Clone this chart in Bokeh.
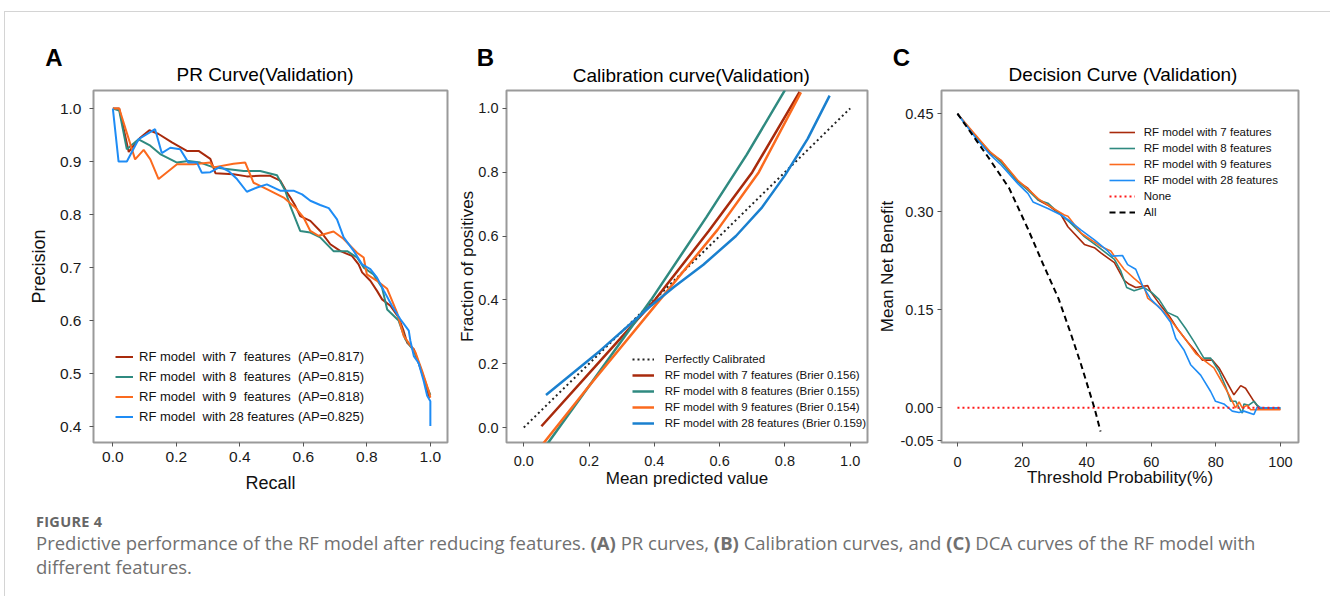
from bokeh.plotting import figure
from bokeh.models import Legend, LegendItem, Label, Div, FixedTicker, PrintfTickFormatter, Range1d
from bokeh.layouts import row, column
from bokeh.embed import file_html
from bokeh.resources import INLINE

FONT = "Liberation Sans"

# ---------------- Panel A : PR curves ----------------
pr_names = ["RF model  with 7  features  (AP=0.817)",
            "RF model  with 8  features  (AP=0.815)",
            "RF model  with 9  features  (AP=0.818)",
            "RF model  with 28 features (AP=0.825)"]
rec7 = [0.0, 0.02, 0.05, 0.086, 0.115, 0.144, 0.186, 0.233, 0.27, 0.307, 0.323, 0.38, 0.422, 0.464, 0.496,
        0.527, 0.548, 0.559, 0.575, 0.59, 0.622, 0.653, 0.685, 0.717, 0.753, 0.774, 0.785, 0.811, 0.832,
        0.848, 0.874, 0.9, 0.916, 0.927, 0.948, 0.963, 0.979, 0.995, 1.0]
prec7 = [1.0, 1.0, 0.918, 0.945, 0.959, 0.952, 0.936, 0.92, 0.92, 0.905, 0.878, 0.876, 0.872, 0.873, 0.873,
         0.864, 0.842, 0.832, 0.816, 0.797, 0.788, 0.769, 0.744, 0.731, 0.722, 0.706, 0.691, 0.675, 0.656,
         0.64, 0.628, 0.606, 0.58, 0.558, 0.546, 0.52, 0.492, 0.458, 0.455]
rec8 = [0.0, 0.02, 0.044, 0.081, 0.118, 0.149, 0.202, 0.238, 0.275, 0.317, 0.359, 0.412, 0.464, 0.517, 0.543,
        0.559, 0.59, 0.622, 0.653, 0.695, 0.738, 0.769, 0.79, 0.821, 0.848, 0.864, 0.9, 0.921, 0.948, 0.969,
        0.99, 1.0]
prec8 = [1.0, 0.996, 0.923, 0.942, 0.93, 0.914, 0.898, 0.901, 0.898, 0.889, 0.886, 0.882, 0.882, 0.874, 0.845,
         0.816, 0.769, 0.766, 0.757, 0.731, 0.731, 0.719, 0.7, 0.687, 0.662, 0.621, 0.6, 0.565, 0.543, 0.511,
         0.474, 0.46]
rec9 = [0.0, 0.02, 0.07, 0.097, 0.118, 0.144, 0.202, 0.254, 0.307, 0.317, 0.38, 0.417, 0.443, 0.485, 0.538,
        0.575, 0.601, 0.622, 0.648, 0.695, 0.727, 0.769, 0.79, 0.8, 0.832, 0.864, 0.895, 0.916, 0.953, 0.974,
        0.995, 1.0]
prec9 = [1.0, 1.0, 0.904, 0.922, 0.904, 0.867, 0.895, 0.895, 0.898, 0.889, 0.896, 0.898, 0.86, 0.848, 0.832,
         0.813, 0.794, 0.769, 0.76, 0.768, 0.754, 0.728, 0.719, 0.687, 0.675, 0.66, 0.615, 0.571, 0.54, 0.505,
         0.467, 0.455]
rec28 = [0.0, 0.018, 0.044, 0.081, 0.133, 0.154, 0.181, 0.212, 0.238, 0.265, 0.28, 0.307, 0.338, 0.364, 0.391,
         0.422, 0.454, 0.485, 0.527, 0.569, 0.596, 0.622, 0.653, 0.68, 0.706, 0.727, 0.759, 0.785, 0.811, 0.832,
         0.853, 0.879, 0.905, 0.932, 0.937, 0.948, 0.963, 0.979, 0.99, 1.0, 1.0]
prec28 = [1.0, 0.9, 0.9, 0.942, 0.961, 0.916, 0.926, 0.923, 0.898, 0.898, 0.879, 0.88, 0.89, 0.882, 0.867,
          0.843, 0.851, 0.857, 0.845, 0.845, 0.838, 0.826, 0.818, 0.812, 0.791, 0.757, 0.731, 0.706, 0.697, 0.681,
          0.657, 0.628, 0.603, 0.581, 0.562, 0.533, 0.52, 0.486, 0.458, 0.448, 0.401]
pr_x_ticks = [0.0, 0.2, 0.4, 0.6, 0.8, 1.0]
pr_y_ticks = [0.4, 0.5, 0.6, 0.7, 0.8, 0.9, 1.0]

# ---------------- Panel B : calibration ----------------
cal_names = ["Perfectly Calibrated",
             "RF model with 7 features (Brier 0.156)",
             "RF model with 8 features (Brier 0.155)",
             "RF model with 9 features (Brier 0.154)",
             "RF model with 28 features (Brier 0.159)"]
perf_x = [0.0, 1.0]
perf_y = [0.0, 1.0]
cal_v7 = [0.054, 0.217, 0.402, 0.566, 0.70, 0.845]
cal_f7 = [0.004, 0.189, 0.40, 0.615, 0.80, 1.052]
cal_v8 = [0.066, 0.2, 0.39, 0.56, 0.683, 0.8]
cal_f8 = [-0.06, 0.13, 0.40, 0.66, 0.855, 1.057]
cal_v9 = [0.052, 0.2, 0.417, 0.594, 0.72, 0.849]
cal_f9 = [-0.06, 0.13, 0.40, 0.62, 0.80, 1.05]
cal_v28 = [0.068, 0.233, 0.387, 0.46, 0.55, 0.65, 0.73, 0.8, 0.87, 0.937]
cal_f28 = [0.102, 0.24, 0.379, 0.44, 0.51, 0.60, 0.69, 0.79, 0.905, 1.04]
cal_x_ticks = [0.0, 0.2, 0.4, 0.6, 0.8, 1.0]
cal_y_ticks = [0.0, 0.2, 0.4, 0.6, 0.8, 1.0]

# ---------------- Panel C : decision curves ----------------
dca_names = ["RF model with 7 features", "RF model with 8 features", "RF model with 9 features",
             "RF model with 28 features", "None", "All"]
t7 = [0, 5.5, 10, 13.6, 18.7, 21.8, 25, 28, 32.1, 34.2, 39.3, 42.4, 44.4, 48.6, 51.6, 53.2, 55.2, 58.9, 59.9,
      63, 65.5, 68.1, 71.2, 73.8, 75.8, 78.9, 81, 83, 85.6, 87.7, 89.2, 91.8, 93.3, 95, 100]
nb7 = [0.45, 0.416, 0.39, 0.378, 0.346, 0.336, 0.318, 0.31, 0.295, 0.277, 0.25, 0.245, 0.237, 0.222, 0.195,
       0.189, 0.184, 0.187, 0.177, 0.156, 0.141, 0.121, 0.101, 0.086, 0.073, 0.073, 0.061, 0.043, 0.02, 0.034,
       0.03, 0.01, 0.0, -0.002, -0.002]
t8 = [0, 5.5, 10, 13.6, 18.7, 21.8, 25, 28, 32.1, 35, 39.3, 43.4, 48.6, 50.6, 52.4, 54.7, 57.8, 60, 62.4, 65,
      68.1, 70.7, 73.3, 76.3, 78.4, 81, 83, 84.6, 86.2, 87.2, 88.2, 88.7, 90.2, 91.8, 92.8, 93.8, 100]
nb8 = [0.45, 0.416, 0.392, 0.375, 0.346, 0.333, 0.318, 0.313, 0.295, 0.283, 0.262, 0.247, 0.227, 0.209, 0.184,
       0.179, 0.184, 0.177, 0.166, 0.146, 0.139, 0.121, 0.101, 0.076, 0.076, 0.056, 0.033, 0.01, 0.01, 0.0,
       -0.008, 0.006, 0.004, 0.01, 0.004, 0.0, 0.0]
t9 = [0, 5.5, 10, 13.6, 18.7, 21.8, 25, 28, 33.1, 34.2, 38.3, 44.4, 47.5, 48.6, 51.6, 54.7, 57.8, 58.9, 62, 65,
      68.1, 71.2, 73.8, 76.3, 79.4, 81.5, 84.1, 86.1, 87.2, 88.2, 89.7, 90.8, 100]
nb9 = [0.45, 0.418, 0.392, 0.378, 0.348, 0.335, 0.32, 0.31, 0.295, 0.293, 0.267, 0.247, 0.24, 0.232, 0.212,
       0.198, 0.185, 0.168, 0.156, 0.141, 0.121, 0.101, 0.083, 0.073, 0.061, 0.043, 0.02, 0.0, 0.009, 0.0,
       0.004, -0.003, -0.003]
t28 = [0, 5.5, 10, 13.6, 18.7, 21.8, 23.4, 28, 32.1, 35, 38.3, 42.4, 46.5, 48, 51.1, 52.7, 55.2, 57.3, 59.9,
       63, 66, 67.6, 70.2, 72.2, 75.3, 78.4, 79.9, 82.5, 85.1, 87.2, 88.7, 91.8, 92.8, 94.8, 100]
nb28 = [0.45, 0.414, 0.388, 0.371, 0.343, 0.328, 0.315, 0.305, 0.295, 0.285, 0.272, 0.257, 0.24, 0.232, 0.233,
        0.219, 0.212, 0.187, 0.166, 0.151, 0.131, 0.106, 0.088, 0.066, 0.05, 0.025, 0.01, 0.006, -0.005,
        -0.007, -0.005, -0.01, 0.001, 0.0, 0.0]
none_t = [0, 100]
none_nb = [0.0, 0.0]
all_t = [0, 5, 10, 16, 21.8, 26.5, 31.3, 35, 38.3, 42.4, 44.3]
all_nb = [0.45, 0.415, 0.38, 0.336, 0.274, 0.22, 0.167, 0.115, 0.066, 0.0, -0.036]
dca_x_ticks = [0, 20, 40, 60, 80, 100]
dca_y_ticks = [-0.05, 0.0, 0.15, 0.30, 0.45]

# ---------------- headings & caption ----------------
panel_letters = ["A", "B", "C"]
panel_titles = ["PR Curve(Validation)", "Calibration curve(Validation)", "Decision Curve (Validation)"]
fig_label = "FIGURE 4"
caption_html = ("Predictive performance of the RF model after reducing features. <b>(A)</b> PR curves, "
                "<b>(B)</b> Calibration curves, and <b>(C)</b> DCA curves of the RF model with<br>"
                "different features.")

C_BROWN = "#a82a0c"
C_TEAL = "#2f8a80"
C_ORANGE = "#fb6a1e"
C_BLUE = "#1e8cf5"
C_BLUE_B = "#1a80cf"

# page offset of the layout content (root at x=4,y=11 plus a 1px border)
OX, OY = 5, 12


def make_fig(width, height, bl, br, bt, bb, xr, yr):
    p = figure(width=width, height=height, x_range=Range1d(*xr), y_range=Range1d(*yr),
               output_backend="svg", toolbar_location=None,
               min_border_left=bl, min_border_right=br, min_border_top=bt, min_border_bottom=bb)
    p.grid.visible = False
    p.outline_line_color = "#9a9a9a"
    p.outline_line_width = 2
    p.background_fill_color = "white"
    p.border_fill_color = "white"
    for ax in (p.xaxis[0], p.yaxis[0]):
        ax.axis_line_color = None
        ax.minor_tick_line_color = None
        ax.major_tick_in = 0
        ax.major_tick_out = 4
        ax.major_tick_line_color = "#555555"
        ax.major_label_text_font = FONT
        ax.axis_label_text_font = FONT
        ax.axis_label_text_font_style = "normal"
        ax.major_label_text_color = "#1a1a1a"
        ax.axis_label_text_color = "#111111"
    return p


def style_legend(lg, size, lh, sp, gw, st):
    lg.label_text_font = FONT
    lg.label_text_font_size = size
    lg.label_text_color = "#111111"
    lg.label_height = lh
    lg.glyph_height = lh
    lg.glyph_width = gw
    lg.label_standoff = st
    lg.spacing = sp
    lg.padding = 0
    lg.margin = 0
    lg.border_line_color = None
    lg.background_fill_alpha = 0


# ---------------- header strip (panel letters + titles) ----------------
HDR_H = 76
hdr = figure(width=1321, height=HDR_H, x_range=Range1d(0, 1321), y_range=Range1d(HDR_H, 0),
             output_backend="svg", toolbar_location=None, min_border=0,
             x_axis_location=None, y_axis_location=None)
hdr.grid.visible = False
hdr.outline_line_color = None
hdr.background_fill_color = "white"
hdr.border_fill_color = "white"
letter_pos = [(53.5, 56.5), (485, 56.5), (900.8, 56.5)]
title_pos = [(264.5, 73.7), (690.8, 75.0), (1122.5, 74.3)]
for txt, (px, py) in zip(panel_letters, letter_pos):
    hdr.add_layout(Label(x=px - OX, y=py - OY, text=txt, text_align="center", text_baseline="middle",
                         text_font=FONT, text_font_size="24px", text_font_style="bold", text_color="black"))
for txt, (px, py) in zip(panel_titles, title_pos):
    hdr.add_layout(Label(x=px - OX, y=py - OY, text=txt, text_align="center", text_baseline="middle",
                         text_font=FONT, text_font_size="19px", text_color="black"))

PH = 488 - HDR_H

# ---------------- Panel A ----------------
pA = make_fig(447, PH, 88, 5, 2, 58, (-0.061, 1.054), (0.37, 1.034))
rA = []
for xs, ys, c in ((rec7, prec7, C_BROWN), (rec8, prec8, C_TEAL), (rec9, prec9, C_ORANGE), (rec28, prec28, C_BLUE)):
    rA.append(pA.line(xs, ys, line_color=c, line_width=2))
pA.xaxis.ticker = FixedTicker(ticks=pr_x_ticks)
pA.yaxis.ticker = FixedTicker(ticks=pr_y_ticks)
pA.xaxis.formatter = PrintfTickFormatter(format="%.1f")
pA.yaxis.formatter = PrintfTickFormatter(format="%.1f")
pA.xaxis.axis_label = "Recall"
pA.yaxis.axis_label = "Precision"
pA.xaxis.major_label_text_font_size = "15.5px"
pA.yaxis.major_label_text_font_size = "15.5px"
pA.xaxis.axis_label_text_font_size = "18px"
pA.yaxis.axis_label_text_font_size = "18px"
pA.xaxis.major_label_standoff = 5
pA.yaxis.major_label_standoff = 8
pA.xaxis.axis_label_standoff = 8
pA.yaxis.axis_label_standoff = 8
lgA = Legend(items=[LegendItem(label=n, renderers=[r]) for n, r in zip(pr_names, rA)], location=(22, 18))
style_legend(lgA, "13px", 15, 5, 18, 6)
pA.add_layout(lgA)

# ---------------- Panel B ----------------
pB = make_fig(423, PH, 54, 8, 2, 52, (-0.053, 1.053), (-0.047, 1.056))
rB = [pB.line(perf_x, perf_y, line_color="#222222", line_width=2, line_dash="2 3")]
for xs, ys, c in ((cal_v7, cal_f7, C_BROWN), (cal_v8, cal_f8, C_TEAL), (cal_v9, cal_f9, C_ORANGE),
                  (cal_v28, cal_f28, C_BLUE_B)):
    rB.append(pB.line(xs, ys, line_color=c, line_width=2.5))
pB.xaxis.ticker = FixedTicker(ticks=cal_x_ticks)
pB.yaxis.ticker = FixedTicker(ticks=cal_y_ticks)
pB.xaxis.formatter = PrintfTickFormatter(format="%.1f")
pB.yaxis.formatter = PrintfTickFormatter(format="%.1f")
pB.xaxis.axis_label = "Mean predicted value"
pB.yaxis.axis_label = "Fraction of positives"
pB.xaxis.major_label_text_font_size = "14.5px"
pB.yaxis.major_label_text_font_size = "14.5px"
pB.xaxis.axis_label_text_font_size = "17px"
pB.yaxis.axis_label_text_font_size = "17px"
pB.xaxis.major_label_standoff = 9
pB.yaxis.major_label_standoff = 4
pB.xaxis.axis_label_standoff = 0
pB.yaxis.axis_label_standoff = -2
lgB = Legend(items=[LegendItem(label=n, renderers=[r]) for n, r in zip(cal_names, rB)], location=(125.7, 12.3))
style_legend(lgB, "11.5px", 14, 2, 22, 11)
pB.add_layout(lgB)

# ---------------- Panel C ----------------
pC = make_fig(451, PH, 65, 28, 1, 55, (-4.94, 105.6), (-0.053, 0.4854))
rC = []
for xs, ys, c in ((t7, nb7, C_BROWN), (t8, nb8, C_TEAL), (t9, nb9, C_ORANGE), (t28, nb28, C_BLUE)):
    rC.append(pC.line(xs, ys, line_color=c, line_width=1.6))
rC.append(pC.line(none_t, none_nb, line_color="#ff1a1a", line_width=2, line_dash="2 3"))
rC.append(pC.line(all_t, all_nb, line_color="black", line_width=2, line_dash="6 4"))
pC.xaxis.ticker = FixedTicker(ticks=dca_x_ticks)
pC.yaxis.ticker = FixedTicker(ticks=dca_y_ticks)
pC.xaxis.formatter = PrintfTickFormatter(format="%d")
pC.yaxis.formatter = PrintfTickFormatter(format="%.2f")
pC.xaxis.axis_label = "Threshold Probability(%)"
pC.yaxis.axis_label = "Mean Net Benefit"
pC.xaxis.major_label_text_font_size = "14.5px"
pC.yaxis.major_label_text_font_size = "14.5px"
pC.xaxis.axis_label_text_font_size = "17px"
pC.yaxis.axis_label_text_font_size = "17px"
pC.xaxis.major_label_standoff = 10
pC.yaxis.major_label_standoff = 4
pC.xaxis.axis_label_standoff = -2
pC.yaxis.axis_label_standoff = 0
lgC = Legend(items=[LegendItem(label=n, renderers=[r]) for n, r in zip(dca_names, rC)], location=(167.7, 224.3))
style_legend(lgC, "11.5px", 12, 4, 26, 9)
pC.add_layout(lgC)

# ---------------- caption ----------------
cap = Div(text=(
    "<div style=\"font-family:'Open Sans',sans-serif;padding-left:26px;white-space:nowrap;\">"
    "<div style=\"font-weight:700;font-size:14.5px;line-height:17px;padding-top:8px;color:#666666;"
    "letter-spacing:0.3px;\">" + fig_label + "</div>"
    "<div style=\"font-size:18.5px;line-height:23.5px;margin-top:1px;color:#707070;\">" + caption_html +
    "</div></div>"),
    width=1321, height=86)

root = column(hdr, row(pA, pB, pC), cap,
              styles={"border-top": "1px solid #d4d4d4", "border-left": "1px solid #d4d4d4",
                      "border-right": "1px solid #d4d4d4", "margin-left": "4px", "margin-right": "3px",
                      "margin-top": "11px"})

open("out.html", "w").write(file_html(root, INLINE))
